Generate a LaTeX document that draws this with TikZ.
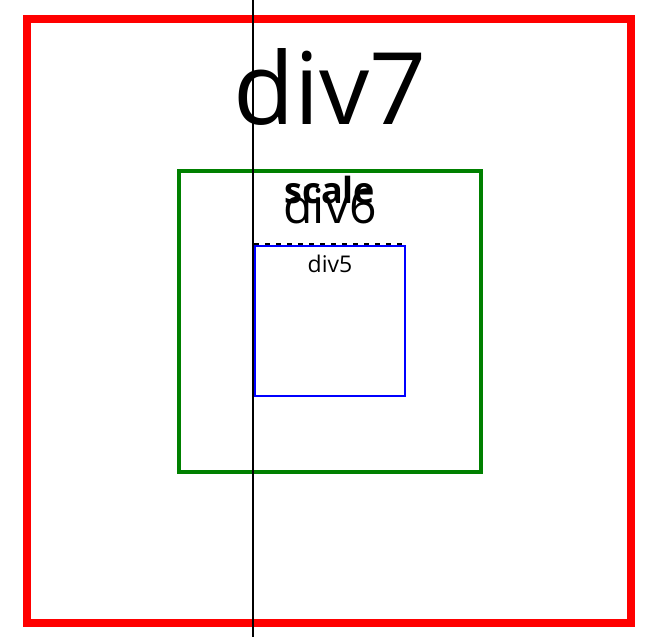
\documentclass[tikz,border=0pt]{standalone}
\usepackage{fontspec}
\setmainfont{Open Sans}
\begin{document}
\begin{tikzpicture}[x=1pt,y=-1pt,
  box/.style={draw,fill=none},
  lbl/.style={inner sep=0pt,anchor=base,text=black}]
\useasboundingbox (0,0) rectangle (646,637);
\fill[white] (0,0) rectangle (646,637);
% boxes
\draw[box,red,line width=8pt] (27,19) rectangle (631,623);
\draw[box,green!50!black,line width=4pt] (179,171) rectangle (480.5,472);
\draw[box,blue,line width=2pt] (254.5,246) rectangle (404.5,396);
% dashed line above div5
\coordinate (dl) at (254,243.5);
\coordinate (dr) at (404,243.5);
\draw[line width=2pt,dash pattern=on 5pt off 6pt] (dl) -- (dr);
% vertical line
\coordinate (vt) at (253,0);
\coordinate (vb) at (253,637);
\draw[line width=2pt] (vt) -- (vb);
% labels
\node[lbl] (div7) at (330,124) {\fontsize{100}{110}\selectfont div7};
\node[lbl] (div6) at (330,223) {\fontsize{48}{52}\selectfont div6};
\node[lbl] (scale) at (330,203) {\fontsize{36}{40}\selectfont\bfseries scale};
\node[lbl] (div5) at (330,272) {\fontsize{23}{27}\selectfont div5};
\end{tikzpicture}
\end{document}
